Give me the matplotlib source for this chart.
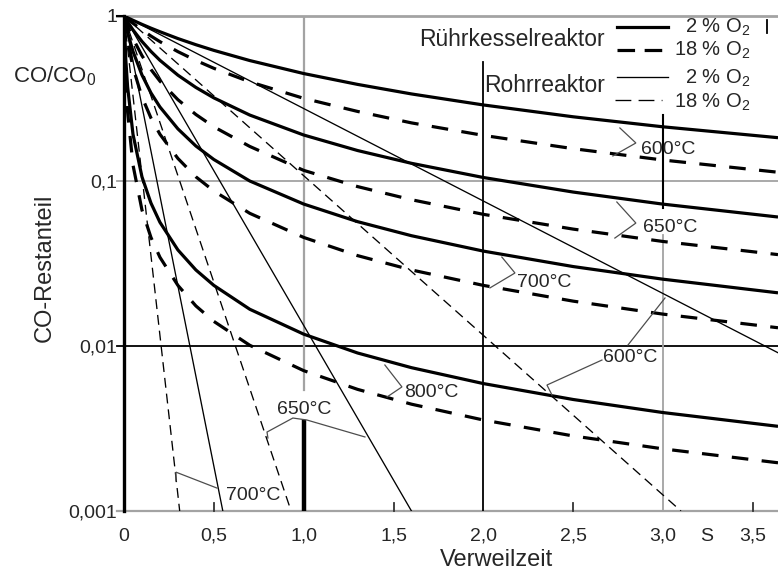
import matplotlib
matplotlib.use('Agg')
import matplotlib.pyplot as plt

plt.rcParams['font.family'] = ['Liberation Sans', 'DejaVu Sans']
plt.rcParams['mathtext.fontset'] = 'custom'
plt.rcParams['mathtext.rm'] = 'Liberation Sans'
plt.rcParams['mathtext.it'] = 'Liberation Sans:italic'

# ---------------- data ----------------
tau = [0, 0.01, 0.02, 0.05, 0.1, 0.15, 0.2, 0.3, 0.4, 0.5, 0.7, 1.0, 1.3, 1.6, 2.0, 2.5, 3.0, 3.64]

# Rührkesselreaktor, 2 % O2 (thick solid)
ruehr_2_600 = [1, 0.988, 0.976, 0.942, 0.890, 0.844, 0.803, 0.730, 0.670, 0.619, 0.537, 0.448, 0.385, 0.337, 0.289, 0.245, 0.213, 0.183]
ruehr_2_650 = [1, 0.959, 0.921, 0.824, 0.701, 0.610, 0.539, 0.438, 0.369, 0.319, 0.251, 0.190, 0.153, 0.128, 0.105, 0.0857, 0.0724, 0.0605]
ruehr_2_700 = [1, 0.887, 0.796, 0.610, 0.439, 0.342, 0.281, 0.207, 0.163, 0.135, 0.100, 0.0725, 0.0567, 0.0466, 0.0376, 0.0303, 0.0254, 0.0210]
ruehr_2_800 = [1, 0.543, 0.373, 0.192, 0.106, 0.0735, 0.0562, 0.0382, 0.0289, 0.0233, 0.0167, 0.0118, 0.00907, 0.00739, 0.00592, 0.00474, 0.00395, 0.00326]

# Rührkesselreaktor, 18 % O2 (thick dashed)
ruehr_18_600 = [1, 0.979, 0.959, 0.903, 0.823, 0.756, 0.699, 0.608, 0.538, 0.482, 0.399, 0.317, 0.264, 0.225, 0.189, 0.157, 0.134, 0.113]
ruehr_18_650 = [1, 0.931, 0.871, 0.730, 0.575, 0.474, 0.403, 0.311, 0.253, 0.213, 0.162, 0.116, 0.0925, 0.0770, 0.0628, 0.0511, 0.0430, 0.0358]
ruehr_18_700 = [1, 0.826, 0.704, 0.488, 0.323, 0.241, 0.192, 0.137, 0.106, 0.087, 0.0637, 0.0455, 0.0353, 0.0289, 0.0233, 0.0187, 0.0156, 0.0129]
ruehr_18_800 = [1, 0.417, 0.263, 0.125, 0.0667, 0.0455, 0.0345, 0.0233, 0.0175, 0.0141, 0.0101, 0.00709, 0.00546, 0.00444, 0.00356, 0.00285, 0.00238, 0.00196]

# Rohrreaktor (straight lines on log scale): start (0, 1) and end point
rohr_temps = ['600°C', '650°C', '700°C']
rohr_2_end_tau = [3.64, 1.60, 0.55]
rohr_2_end_val = [0.0091, 0.001, 0.001]
rohr_18_end_tau = [3.10, 0.93, 0.31]
rohr_18_end_val = [0.001, 0.001, 0.001]

xtick_pos = [0, 0.5, 1.0, 1.5, 2.0, 2.5, 3.0, 3.24, 3.5]
xtick_lab = ['0', '0,5', '1,0', '1,5', '2,0', '2,5', '3,0', 'S', '3,5']
ytick_pos = [1, 0.1, 0.01, 0.001]
ytick_lab = ['1', '0,1', '0,01', '0,001']

# ---------------- figure ----------------
W, H = 778, 573
fig = plt.figure(figsize=(W / 100, H / 100), dpi=100)
ax = fig.add_axes([124 / W, 1 - 511 / H, 1 - 124 / W, (511 - 16) / H])
ax.set_yscale('log')
ax.set_xlim(0, 3.64)
ax.set_ylim(0.001, 1)

def P(x, y):
    return (x / W, 1 - y / H)

TXT = '#262626'
GRAY = '#a3a3a3'
for s in ['top', 'right', 'bottom']:
    ax.spines[s].set_visible(False)
ax.spines['left'].set_linewidth(2.4)
ax.spines['left'].set_color('black')
ax.spines['left'].set_zorder(6)

ax.set_xticks(xtick_pos)
ax.set_xticklabels(xtick_lab)
ax.set_yticks(ytick_pos)
ax.set_yticklabels(ytick_lab)
ax.minorticks_off()
ax.tick_params(axis='x', length=0, pad=12, labelsize=14, labelcolor=TXT)
ax.tick_params(axis='y', length=0, pad=5, labelsize=14, labelcolor=TXT)

ytr = ax.get_yaxis_transform()
xtr = ax.get_xaxis_transform()

# horizontal reference lines (with stubs to the left of the axis)
ax.plot([-0.011, 1], [1, 1], color=GRAY, lw=2.0, transform=ytr, clip_on=False, zorder=1)
ax.plot([-0.011, 0], [1, 1], color='black', lw=1.5, transform=ytr, clip_on=False, zorder=1)
ax.plot([-0.011, 1], [0.1, 0.1], color=GRAY, lw=1.3, transform=ytr, clip_on=False, zorder=1)
ax.plot([-0.011, 1], [0.01, 0.01], color='black', lw=1.3, transform=ytr, clip_on=False, zorder=1)
ax.plot([-0.011, 1], [0.001, 0.001], color=GRAY, lw=1.6, transform=ytr, clip_on=False, zorder=1)

# small x tick marks
for xv in [0.5, 1.5, 2.5, 3.5]:
    ax.plot([xv, xv], [0, 0.016], color='#333333', lw=1.3, transform=xtr, clip_on=False, zorder=1)

# vertical reference lines
ax.plot([1, 1], [0.0054, 1], color=GRAY, lw=1.6, zorder=1)
ax.plot([1, 1], [0.001, 0.00347], color='black', lw=3.2, zorder=1)
ax.plot([2, 2], [0.001, 0.526], color='black', lw=1.3, zorder=1)
ax.plot([3, 3], [0.0686, 0.251], color='black', lw=1.5, zorder=1)
ax.plot([3, 3], [0.001, 0.0471], color=GRAY, lw=1.3, zorder=1)
ax.plot([3.58, 3.58], [0.789, 0.946], color='black', lw=1.3, zorder=1)

# ---------------- curves ----------------
THICK = 2.3
for vals in [ruehr_2_600, ruehr_2_650, ruehr_2_700, ruehr_2_800]:
    ax.plot(tau, vals, color='black', lw=THICK, solid_capstyle='butt', zorder=3)
for vals in [ruehr_18_600, ruehr_18_650, ruehr_18_700, ruehr_18_800]:
    ax.plot(tau, vals, color='black', lw=THICK, linestyle=(0, (5.2, 4.2)), dash_capstyle='butt', zorder=3)
for te, ve in zip(rohr_2_end_tau, rohr_2_end_val):
    ax.plot([0, te], [1, ve], color='black', lw=0.95, zorder=3)
for te, ve in zip(rohr_18_end_tau, rohr_18_end_val):
    ax.plot([0, te], [1, ve], color='black', lw=0.95, linestyle=(0, (7.5, 4.5)), zorder=3)

# ---------------- temperature labels with leaders ----------------
LC = '#4d4d4d'
def leader(xs, ys):
    ax.plot(xs, ys, color=LC, lw=0.9, zorder=4, solid_joinstyle='miter')

leader([2.760, 2.849, 2.721], [0.2096, 0.170, 0.1418])
ax.text(2.877, 0.156, '600°C', fontsize=14, color=TXT, va='center', ha='left', zorder=5)
leader([2.743, 2.849, 2.732], [0.0746, 0.0556, 0.0451])
ax.text(2.888, 0.0526, '650°C', fontsize=14, color=TXT, va='center', ha='left', zorder=5)
leader([2.103, 2.176, 2.037], [0.0346, 0.0277, 0.0225])
ax.text(2.190, 0.0241, '700°C', fontsize=14, color=TXT, va='center', ha='left', zorder=5)
leader([1.452, 1.547, 1.464], [0.00767, 0.00565, 0.00491])
ax.text(1.560, 0.00526, '800°C', fontsize=14, color=TXT, va='center', ha='left', zorder=5)

leader([3.011, 2.805], [0.01954, 0.01014])
leader([2.660, 2.354, 2.382], [0.00822, 0.00580, 0.00505])
ax.text(2.664, 0.00846, '600°C', fontsize=14, color=TXT, va='center', ha='left', zorder=5)
leader([0.801, 0.796, 0.940, 1.018, 1.341], [0.00277, 0.00301, 0.00366, 0.00356, 0.00281])
ax.text(1.004, 0.00415, '650°C', fontsize=14, color=TXT, va='center', ha='center', zorder=5)
leader([0.289, 0.289, 0.5175], [0.00152, 0.00172, 0.001377])
ax.text(0.570, 0.00125, '700°C', fontsize=14, color=TXT, va='center', ha='left', zorder=5)

# ---------------- axis titles ----------------
fig.text(*P(13, 76), r'CO/CO$_\mathregular{0}$', fontsize=16, color=TXT, ha='left', va='center')
fig.text(*P(45, 268), 'CO-Restanteil', fontsize=17, color=TXT, ha='center', va='center', rotation=90)
fig.text(*P(497, 560), 'Verweilzeit', fontsize=17, color=TXT, ha='center', va='center')

# ---------------- legend (drawn manually) ----------------
ft = fig.transFigure
def fline(x0, x1, y, **kw):
    a, b = P(x0, y)
    c, d = P(x1, y)
    fig.add_artist(plt.Line2D([a, c], [b, d], transform=ft, color='black', **kw))

fig.text(*P(605, 39), 'Rührkesselreaktor', fontsize=16.5, color=TXT, ha='right', va='center')
fline(617, 668, 27, lw=THICK)
fline(617, 668, 50, lw=THICK, linestyle=(0, (5.5, 3.0)), dash_capstyle='butt')
fig.text(*P(750, 27), r'2 % O$_\mathregular{2}$', fontsize=14.5, color=TXT, ha='right', va='center')
fig.text(*P(750, 50), r'18 % O$_\mathregular{2}$', fontsize=14.5, color=TXT, ha='right', va='center')

fig.text(*P(605, 86), 'Rohrreaktor', fontsize=16.5, color=TXT, ha='right', va='center')
fline(617, 668, 77, lw=0.95)
fline(615, 662, 100, lw=0.95, linestyle=(0, (12, 5.5)))
fig.text(*P(750, 78), r'2 % O$_\mathregular{2}$', fontsize=14.5, color=TXT, ha='right', va='center')
fig.text(*P(750, 102), r'18 % O$_\mathregular{2}$', fontsize=14.5, color=TXT, ha='right', va='center')

fig.savefig('out.png', dpi=100, facecolor='white')
